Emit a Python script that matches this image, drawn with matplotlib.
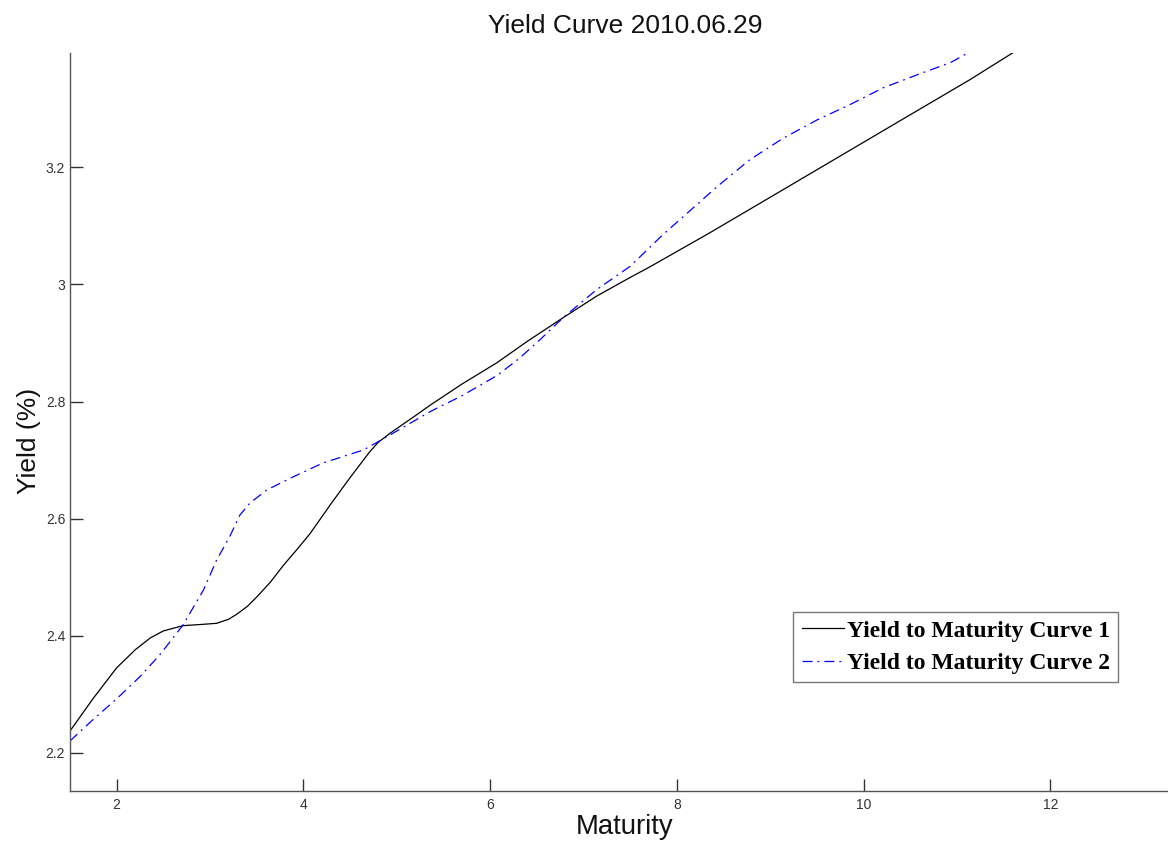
import matplotlib
matplotlib.use("Agg")
import matplotlib.pyplot as plt
from matplotlib.ticker import FuncFormatter

# ---- data ----
maturity_1 = [1.5, 1.75, 2.0, 2.2, 2.36, 2.5, 2.71, 2.9, 3.07, 3.2, 3.29, 3.4, 3.5,
              3.65, 3.78, 3.93, 4.07, 4.29, 4.5, 4.71, 4.8, 4.93, 5.21, 5.36, 5.7, 6.07,
              6.4, 6.78, 7.14, 7.5, 7.71, 8.35, 9.0, 9.5, 10.0, 10.5, 11.14, 11.6]
yield_1 = [2.237, 2.293, 2.345, 2.376, 2.396, 2.408, 2.417, 2.419, 2.421, 2.428, 2.437,
           2.45, 2.466, 2.492, 2.519, 2.547, 2.574, 2.624, 2.67, 2.714, 2.73, 2.746,
           2.777, 2.794, 2.83, 2.866, 2.903, 2.943, 2.98, 3.012, 3.03, 3.088, 3.149,
           3.196, 3.243, 3.29, 3.35, 3.396]

maturity_2 = [1.5, 1.75, 2.0, 2.25, 2.46, 2.52, 2.71, 2.93, 3.07, 3.21, 3.32, 3.43, 3.61,
              3.86, 4.21, 4.64, 4.93, 5.36, 5.7, 6.07, 6.3, 6.53, 6.78, 7.14, 7.5, 7.85,
              8.07, 8.43, 8.78, 9.14, 9.5, 9.85, 10.21, 10.57, 10.93, 11.1]
yield_2 = [2.22, 2.257, 2.292, 2.330, 2.367, 2.379, 2.418, 2.478, 2.529, 2.569, 2.606,
           2.627, 2.649, 2.669, 2.695, 2.717, 2.743, 2.783, 2.81, 2.844, 2.872, 2.905,
           2.943, 2.991, 3.031, 3.085, 3.116, 3.167, 3.213, 3.25, 3.281, 3.307, 3.336,
           3.358, 3.379, 3.394]

series_labels = ["Yield to Maturity Curve 1", "Yield to Maturity Curve 2"]
x_ticks = [2, 4, 6, 8, 10, 12]
y_ticks = [2.2, 2.4, 2.6, 2.8, 3.0, 3.2]
title = "Yield Curve 2010.06.29"
x_label = "Maturity"
y_label = "Yield (%)"

# ---- figure ----
W, H = 1168, 848
fig = plt.figure(figsize=(W / 100, H / 100), dpi=100)
left, right, top, bottom = 70, 1180, 53.3, 790.7
ax = fig.add_axes([left / W, 1 - bottom / H, (right - left) / W, (bottom - top) / H])

ax.plot(maturity_1, yield_1, color="black", lw=0.9, label=series_labels[0])
ax.plot(maturity_2, yield_2, color="#0000ff", lw=0.9, linestyle=(0, (8, 4, 1.5, 4)),
        label=series_labels[1])

ax.set_xlim(1.5, 1.5 + (right - left) / 93.36)
ax.set_ylim(2.135, 3.395)
ax.set_xticks(x_ticks)
ax.set_yticks(y_ticks)
ax.xaxis.set_major_formatter(FuncFormatter(lambda v, p: f"{v:g}"))
ax.yaxis.set_major_formatter(FuncFormatter(lambda v, p: f"{v:g}"))

for s in ["top", "right"]:
    ax.spines[s].set_visible(False)
for s in ["left", "bottom"]:
    ax.spines[s].set_color("#555555")
    ax.spines[s].set_linewidth(1.0)

ax.tick_params(axis="both", direction="in", length=9, width=1.0, color="#333333",
               labelsize=10, labelcolor="#333333")
ax.tick_params(axis="y", pad=3.5)
ax.tick_params(axis="x", pad=5)
for lab in ax.get_xticklabels() + ax.get_yticklabels():
    lab.set_fontfamily("Liberation Sans")

ax.set_title(title, fontsize=19, family="Liberation Sans", pad=14.5, color="#111111")
ax.set_xlabel(x_label, fontsize=19.8, family="Liberation Sans", color="#111111")
ax.set_ylabel(y_label, fontsize=19, family="Liberation Sans", color="#111111")
ax.xaxis.set_label_coords(0.5, -0.031)
ax.yaxis.set_label_coords(-0.026, 0.474)

leg = ax.legend(loc="upper right", bbox_to_anchor=(1118 / W, 1 - 612 / H),
                bbox_transform=fig.transFigure, borderaxespad=0,
                prop={"family": "Liberation Serif", "weight": "bold", "size": 17},
                handlelength=1.8, handletextpad=0.12, labelspacing=0.48,
                borderpad=0.34, fancybox=False, frameon=True)
leg.get_frame().set_edgecolor("#555555")
leg.get_frame().set_linewidth(1.0)

fig.savefig("out.png", dpi=100)
